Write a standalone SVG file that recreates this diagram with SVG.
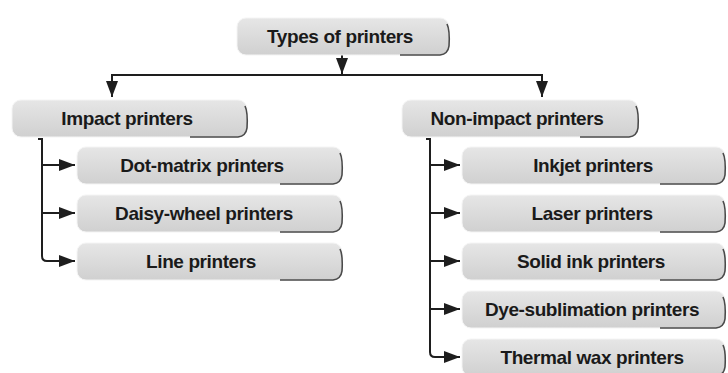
<svg xmlns="http://www.w3.org/2000/svg" width="728" height="373" viewBox="0 0 728 373">
<style>
.box{fill:url(#g);stroke:#f4f4f4;stroke-width:1}
.sh{fill:none;stroke:#4a4a4a;stroke-width:1.6}
.t{font-family:"Liberation Sans",Arial,sans-serif;font-weight:bold;font-size:19px;fill:#1a1a1a;text-anchor:middle;letter-spacing:-0.4px}
.c{fill:none;stroke:#1e1e1e;stroke-width:2}
</style>
<defs>
<linearGradient id="g" x1="0" y1="0" x2="0" y2="1">
<stop offset="0" stop-color="#e6e6e6"/>
<stop offset="1" stop-color="#d0d0d0"/>
</linearGradient>
<marker id="a" markerUnits="userSpaceOnUse" markerWidth="16" markerHeight="12" refX="16" refY="6" orient="auto">
<path d="M0,0 L16,6 L0,12 z" fill="#1e1e1e"/>
</marker>
</defs>
<rect width="728" height="373" fill="#ffffff"/>
<g id="connectors">
<path class="c" d="M342,55 V74" marker-end="url(#a)"/>
<path class="c" d="M342,75 H112 V97" marker-end="url(#a)"/>
<path class="c" d="M342,75 H542 V97" marker-end="url(#a)"/>
<path class="c" d="M38,139 H42 V256 Q42,261 47,261 H75" marker-end="url(#a)"/>
<path class="c" d="M42,165 H75" marker-end="url(#a)"/>
<path class="c" d="M42,213 H75" marker-end="url(#a)"/>
<path class="c" d="M426,139 H430 V352 Q430,357 435,357 H460" marker-end="url(#a)"/>
<path class="c" d="M430,165 H460" marker-end="url(#a)"/>
<path class="c" d="M430,213 H460" marker-end="url(#a)"/>
<path class="c" d="M430,261 H460" marker-end="url(#a)"/>
<path class="c" d="M430,309 H460" marker-end="url(#a)"/>
</g>
<g id="root">
<rect class="box" x="237" y="18" width="212" height="37" rx="9"/>
<path class="sh" d="M447,24 Q450,30 449,46 Q448,54 440,55 H400"/>
<text class="t" x="340" y="43">Types of printers</text>
</g>
<g id="impact">
<rect class="box" x="12" y="100" width="235" height="37" rx="9"/>
<path class="sh" d="M245,106 Q248,112 247,128 Q246,136 238,137 H190"/>
<text class="t" x="127" y="125">Impact printers</text>
</g>
<g id="nonimpact">
<rect class="box" x="402" y="100" width="236" height="37" rx="9"/>
<path class="sh" d="M636,106 Q639,112 638,128 Q637,136 629,137 H580"/>
<text class="t" x="517" y="125">Non-impact printers</text>
</g>
<g id="dotmatrix">
<rect class="box" x="77" y="147" width="265" height="37" rx="9"/>
<path class="sh" d="M340,153 Q343,159 342,175 Q341,183 333,184 H280"/>
<text class="t" x="202" y="172">Dot-matrix printers</text>
</g>
<g id="daisywheel">
<rect class="box" x="77" y="195" width="265" height="37" rx="9"/>
<path class="sh" d="M340,201 Q343,207 342,223 Q341,231 333,232 H280"/>
<text class="t" x="204" y="220">Daisy-wheel printers</text>
</g>
<g id="line">
<rect class="box" x="77" y="243" width="265" height="37" rx="9"/>
<path class="sh" d="M340,249 Q343,255 342,271 Q341,279 333,280 H280"/>
<text class="t" x="201" y="268">Line printers</text>
</g>
<g id="inkjet">
<rect class="box" x="462" y="147" width="263" height="37" rx="9"/>
<path class="sh" d="M723,153 Q726,159 725,175 Q724,183 716,184 H660"/>
<text class="t" x="593" y="172">Inkjet printers</text>
</g>
<g id="laser">
<rect class="box" x="462" y="195" width="263" height="37" rx="9"/>
<path class="sh" d="M723,201 Q726,207 725,223 Q724,231 716,232 H660"/>
<text class="t" x="592" y="220">Laser printers</text>
</g>
<g id="solidink">
<rect class="box" x="462" y="243" width="263" height="37" rx="9"/>
<path class="sh" d="M723,249 Q726,255 725,271 Q724,279 716,280 H660"/>
<text class="t" x="591" y="268">Solid ink printers</text>
</g>
<g id="dyesub">
<rect class="box" x="462" y="291" width="263" height="37" rx="9"/>
<path class="sh" d="M723,297 Q726,303 725,319 Q724,327 716,328 H660"/>
<text class="t" x="592" y="316">Dye-sublimation printers</text>
</g>
<g id="thermalwax">
<rect class="box" x="462" y="339" width="263" height="37" rx="9"/>
<path class="sh" d="M723,345 Q726,351 725,367 Q724,375 716,376 H660"/>
<text class="t" x="592" y="364">Thermal wax printers</text>
</g>
</svg>
